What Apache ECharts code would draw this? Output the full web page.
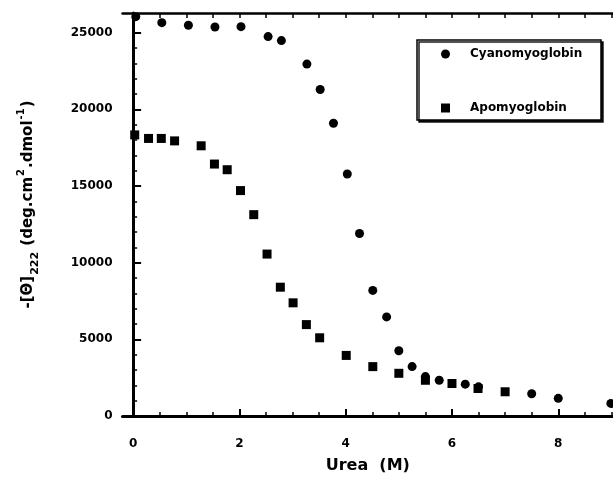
<!DOCTYPE html>
<html><head><meta charset="utf-8">
<script src="https://cdn.jsdelivr.net/npm/echarts@6/dist/echarts.min.js"></script>
<style>html,body{margin:0;padding:0;background:#fff}#c{width:613px;height:479px}</style>
</head><body><div id="c"></div>
<script>
// Data
const cyanoX = [0.05,0.54,1.04,1.54,2.03,2.54,2.79,3.27,3.52,3.77,4.03,4.26,4.51,4.77,5.0,5.25,5.5,5.76,6.25,6.5,7.5,8.0,8.99];
const cyanoY = [26040,25650,25480,25370,25390,24740,24480,22950,21290,19090,15780,11900,8190,6460,4255,3220,2570,2330,2075,1900,1450,1150,820];
const apoX = [0.03,0.29,0.53,0.78,1.28,1.53,1.77,2.02,2.27,2.52,2.77,3.01,3.26,3.51,4.01,4.51,5.0,5.5,6.0,6.49,7.0];
const apoY = [18330,18100,18100,17940,17620,16430,16060,14700,13130,10560,8400,7380,5960,5100,3950,3220,2785,2330,2120,1795,1580];
const xMajor = [0,2,4,6,8];
const xMinor = [0.5,1,1.5,2.5,3,3.5,4.5,5,5.5,6.5,7,7.5,8.5,9];
const xTop = [0,0.5,1,1.5,2,2.5,3,3.5,4,4.5,5,5.5,6,6.5,7,7.5,8,8.5,9];
const yMajor = [0,5000,10000,15000,20000,25000];
const yMinor = [1000,2000,3000,4000,6000,7000,8000,9000,11000,12000,13000,14000,16000,17000,18000,19000,21000,22000,23000,24000,26000];
const seriesNames = ['Cyanomyoglobin','Apomyoglobin'];

const FONT = 'DejaVu Sans';
const X_MIN = -0.2, X_MAX = 9.03, Y_MIN = 0, Y_MAX = 26280;
const line = {show:true, lineStyle:{color:'#000', width:3}};
const plain = v => String(Math.round(v));

const chart = echarts.init(document.getElementById('c'), null, {renderer:'canvas'});
chart.setOption({
  animation:false,
  backgroundColor:'#fff',
  grid:{left:122.5, right:0, top:13, bottom:60},
  graphic:[{
    type:'rect', z:50,
    shape:{x:417, y:40, width:184, height:80},
    style:{fill:'#fff', stroke:'#000', lineWidth:1.5, shadowColor:'rgba(0,0,0,0.9)', shadowOffsetX:2, shadowOffsetY:2, shadowBlur:0}
  }],
  legend:{
    z:60, orient:'vertical', left:441, top:48,
    itemWidth:9, itemHeight:9, itemGap:42, padding:0,
    data:[{name:seriesNames[0], icon:'circle'},{name:seriesNames[1], icon:'rect'}],
    itemStyle:{opacity:1},
    textStyle:{fontFamily:FONT, fontWeight:'bold', fontSize:12, color:'#000', padding:[0,0,0,15]}
  },
  xAxis:[{
    type:'value', position:'bottom', min:X_MIN, max:X_MAX,
    axisLine:line, splitLine:{show:false},
    axisTick:{show:true, inside:true, length:7, lineStyle:{color:'#000', width:2}, customValues:xMajor},
    axisLabel:{show:true, customValues:xMajor, formatter:plain, margin:22, fontFamily:FONT, fontWeight:'bold', fontSize:12, color:'#000'},
    name:'Urea  (M)', nameLocation:'middle', nameGap:42,
    nameTextStyle:{fontFamily:FONT, fontWeight:'bold', fontSize:16, color:'#000'}
  },{
    type:'value', position:'bottom', min:X_MIN, max:X_MAX,
    axisLine:{show:false}, splitLine:{show:false}, axisLabel:{show:false},
    axisTick:{show:true, inside:true, length:4, lineStyle:{color:'#000', width:1.5}, customValues:xMinor}
  },{
    type:'value', position:'top', min:X_MIN, max:X_MAX,
    axisLine:{show:true, lineStyle:{color:'#000', width:2.5}}, splitLine:{show:false}, axisLabel:{show:false},
    axisTick:{show:true, inside:true, length:5, lineStyle:{color:'#000', width:1.5}, customValues:xTop}
  }],
  yAxis:[{
    type:'value', position:'left', min:Y_MIN, max:Y_MAX,
    axisLine:line, splitLine:{show:false},
    axisTick:{show:true, inside:true, length:8, lineStyle:{color:'#000', width:2}, customValues:yMajor},
    axisLabel:{show:true, customValues:yMajor, formatter:plain, margin:10, fontFamily:FONT, fontWeight:'bold', fontSize:12, color:'#000', padding:[5,0,0,0]},
    name:'{t|-[Θ]}{sub|222}{t| (deg.cm}{sup|2}{t|.dmol}{sup|-1}{t|)}',
    nameLocation:'middle', nameGap:82, nameRotate:90,
    nameTextStyle:{
      fontFamily:FONT, fontWeight:'bold', fontSize:15, color:'#000', padding:[0,0,0,20],
      rich:{
        t:{fontFamily:FONT, fontWeight:'bold', fontSize:15, color:'#000', lineHeight:24, verticalAlign:'middle'},
        sub:{fontFamily:FONT, fontWeight:'bold', fontSize:11, color:'#000', lineHeight:24, verticalAlign:'bottom', padding:[0,1,0,1]},
        sup:{fontFamily:FONT, fontWeight:'bold', fontSize:10, color:'#000', lineHeight:24, verticalAlign:'top', padding:[0,1,0,1]}
      }
    }
  },{
    type:'value', position:'left', min:Y_MIN, max:Y_MAX,
    axisLine:{show:false}, splitLine:{show:false}, axisLabel:{show:false},
    axisTick:{show:true, inside:true, length:4, lineStyle:{color:'#000', width:1.5}, customValues:yMinor}
  }],
  series:[{
    name:seriesNames[0], type:'scatter', symbol:'circle', symbolSize:9,
    itemStyle:{color:'#000', opacity:1},
    data:cyanoX.map((x,i)=>[x,cyanoY[i]])
  },{
    name:seriesNames[1], type:'scatter', symbol:'rect', symbolSize:9,
    itemStyle:{color:'#000', opacity:1},
    data:apoX.map((x,i)=>[x,apoY[i]])
  }]
});
</script></body></html>
